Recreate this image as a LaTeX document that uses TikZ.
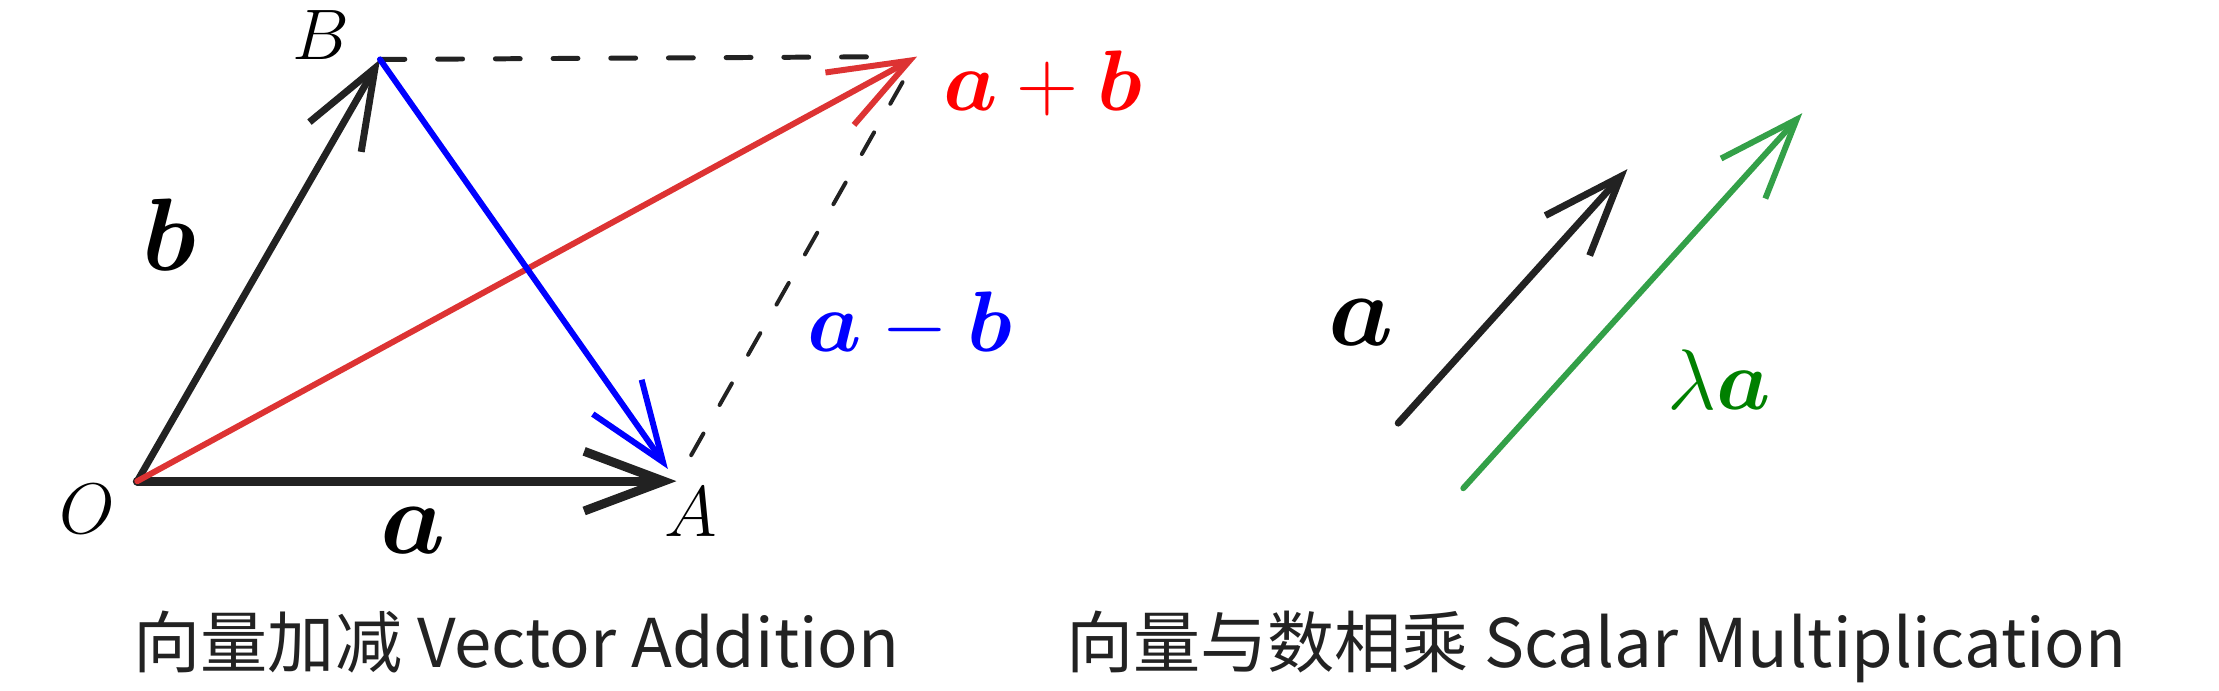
\documentclass[tikz,border=0pt]{standalone}
\usepackage{amsmath}
\usepackage{bm}
\usepackage{fontspec}
\newfontfamily\cjk{Noto Sans CJK SC}
\usepackage{tikz}
\usetikzlibrary{arrows.meta}
\definecolor{vecBlack}{RGB}{34,34,34}
\definecolor{vecRed}{RGB}{221,51,51}
\definecolor{vecGreen}{RGB}{51,160,72}
\definecolor{labGreen}{RGB}{0,128,0}

\begin{document}
\begin{tikzpicture}[auto, line cap=round, line join=round]%
  \tikzset{vec arrow/.style={draw,-{Straight Barb[length=16pt,width=12pt]},line width=1.4pt,vecBlack}}
  \tikzset{help dash/.style={draw,vecBlack,line width=1pt,dash pattern=on 5pt off 6.6pt}}
  \tikzstyle{every node}=[draw=none, inner sep=0pt, outer sep=0pt]
  \useasboundingbox (0,0) rectangle (15.68,4.88);

  % vector addition
  \coordinate (O) at (0.97,1.48);
  \coordinate (A) at (4.78,1.48);
  \coordinate (B) at (2.685,4.46);
  \coordinate (P) at (6.48,4.48);
  \node[font=\fontsize{13.5}{16}\selectfont] at (2.27,4.63) (Blab) {$B$};
  \node[font=\fontsize{13.5}{16}\selectfont] at (0.62,1.28) (Olab) {$O$};
  \node[font=\fontsize{13.5}{16}\selectfont] at (4.88,1.26) (Alab) {$A$};
  \node[font=\fontsize{20}{24}\selectfont] at (2.92,1.13) (alab) {$\bm{a}$};
  \node[font=\fontsize{20}{24}\selectfont] at (1.20,3.22) (blab) {$\bm{b}$};
  \node[font=\fontsize{17}{20}\selectfont, text=red] at (7.37,4.29) (sumlab) {$\bm{a}+\bm{b}$};
  \node[font=\fontsize{17}{20}\selectfont, text=blue] at (6.43,2.58) (difflab) {$\bm{a}-\bm{b}$};

  \path (B) edge[help dash, shorten >=5pt] (P);
  \path (A) edge[help dash, line width=0.8pt, shorten <=6pt, shorten >=2pt] (P);
  \path (O) edge[vec arrow, line width=1.8pt] (A);
  \path (O) edge[vec arrow] (B);
  \path (O) edge[vec arrow, vecRed, line width=1.2pt] (P);
  \path (B) edge[vec arrow, blue, line width=1.2pt, shorten >=3pt] (A);

  % scalar multiplication
  \coordinate (a0) at (9.88,1.89);
  \coordinate (a1) at (11.50,3.685);
  \coordinate (la0) at (10.34,1.43);
  \coordinate (la1) at (12.735,4.08);
  \node[font=\fontsize{20}{24}\selectfont] at (9.62,2.60) (avec) {$\bm{a}$};
  \node[font=\fontsize{17}{20}\selectfont, text=labGreen] at (12.15,2.20) (lavec) {$\lambda\bm{a}$};
  \path (a0) edge[vec arrow] (a1);
  \path (la0) edge[vec arrow, vecGreen, line width=1.2pt] (la1);

  % captions
  \node[anchor=base, text=vecBlack, font=\fontsize{13.5}{16}\selectfont\cjk] at (3.65,0.16) (cap1) {向量加减 Vector Addition};
  \node[anchor=base, text=vecBlack, font=\fontsize{13.5}{16}\selectfont\cjk] at (11.28,0.16) (cap2) {向量与数相乘 Scalar Multiplication};
\end{tikzpicture}
\end{document}
